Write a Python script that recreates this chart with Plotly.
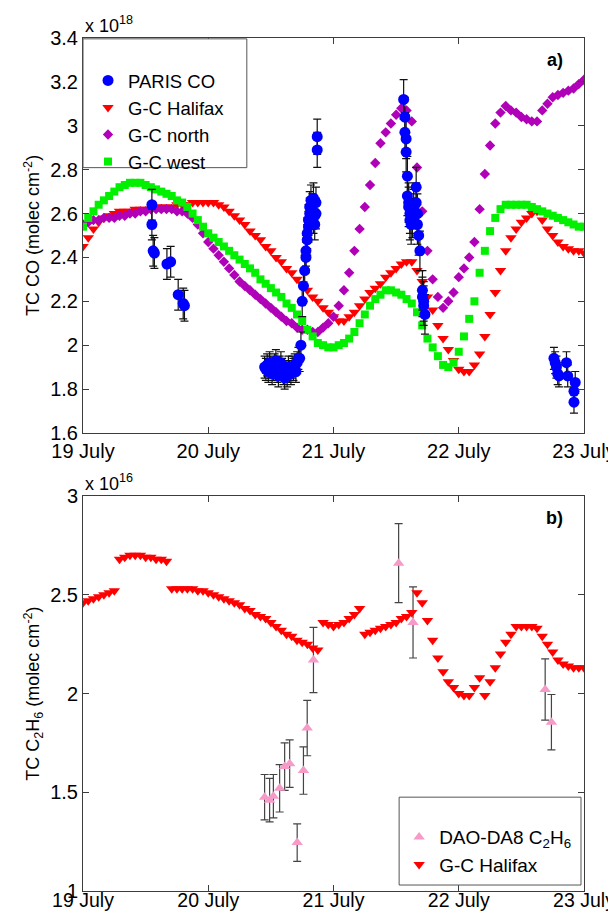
import plotly.graph_objects as go

# model output is hourly from 19 July 00:00 to 23 July 00:00
model_hours = list(range(97))
model_day = [19 + h / 24 for h in model_hours]

# TC CO, x 1e18 molec cm-2
gc_halifax_co = [
    2.45, 2.49, 2.53, 2.56, 2.58, 2.59, 2.60, 2.61, 2.61, 2.61, 2.62, 2.62,
    2.62, 2.62, 2.63, 2.63, 2.63, 2.63, 2.64, 2.64, 2.64, 2.65, 2.65, 2.65,
    2.65, 2.65, 2.64, 2.63, 2.61, 2.59, 2.57, 2.55, 2.52, 2.50, 2.48, 2.45,
    2.43, 2.40, 2.38, 2.35, 2.33, 2.30, 2.28, 2.25, 2.22, 2.20, 2.17, 2.15,
    2.13, 2.11, 2.11, 2.13, 2.15, 2.18, 2.21, 2.24, 2.26, 2.28, 2.31, 2.33,
    2.35, 2.37, 2.38, 2.38, 2.34, 2.29, 2.22, 2.16, 2.09, 2.03, 1.98, 1.93,
    1.89, 1.88, 1.88, 1.91, 1.96, 2.04, 2.14, 2.24, 2.34, 2.43, 2.49, 2.53,
    2.56, 2.58, 2.60, 2.61, 2.57, 2.53, 2.50, 2.47, 2.45, 2.44, 2.43, 2.43,
    2.42,
]
gc_north_co = [
    2.55, 2.56, 2.57, 2.57, 2.58, 2.58, 2.58, 2.59, 2.59, 2.60, 2.60, 2.61,
    2.61, 2.62, 2.62, 2.62, 2.62, 2.62, 2.61, 2.61, 2.60, 2.58, 2.55, 2.51,
    2.47, 2.44, 2.41, 2.38, 2.35, 2.32, 2.29, 2.27, 2.25, 2.23, 2.21, 2.19,
    2.17, 2.15, 2.13, 2.11, 2.10, 2.08, 2.07, 2.07, 2.06, 2.06, 2.08, 2.10,
    2.13, 2.18, 2.25, 2.33, 2.43, 2.53, 2.63, 2.73, 2.83, 2.92, 2.97, 3.01,
    3.05, 3.08, 3.07, 3.02, 2.81, 2.61, 2.43, 2.30, 2.22, 2.17, 2.20, 2.24,
    2.31, 2.35, 2.40, 2.47, 2.62, 2.78, 2.91, 3.01, 3.06, 3.09, 3.07, 3.06,
    3.04, 3.03, 3.02, 3.02, 3.07, 3.10, 3.13, 3.14, 3.15, 3.16, 3.17, 3.19,
    3.21,
]
gc_west_co = [
    2.54, 2.58, 2.61, 2.64, 2.66, 2.68, 2.70, 2.72, 2.73, 2.74, 2.74, 2.74,
    2.73, 2.72, 2.71, 2.70, 2.69, 2.68, 2.66, 2.65, 2.63, 2.60, 2.57, 2.54,
    2.51, 2.49, 2.47, 2.45, 2.43, 2.41, 2.39, 2.37, 2.35, 2.33, 2.30, 2.28,
    2.26, 2.24, 2.22, 2.19, 2.17, 2.14, 2.11, 2.07, 2.04, 2.01, 2.00, 1.99,
    1.99, 2.00, 2.01, 2.03, 2.06, 2.10, 2.14, 2.18, 2.21, 2.23, 2.25, 2.25,
    2.24, 2.23, 2.21, 2.19, 2.15, 2.09, 2.03, 1.99, 1.95, 1.91, 1.90, 1.92,
    1.97, 2.04, 2.12, 2.20, 2.33, 2.43, 2.52, 2.58, 2.62, 2.64, 2.64, 2.64,
    2.64, 2.64, 2.63, 2.62, 2.61, 2.60, 2.59, 2.58, 2.57, 2.56, 2.55, 2.54,
    2.54,
]

# PARIS CO measurements
paris_day = [
    19.55, 19.55, 19.56, 19.57, 19.67, 19.70, 19.76, 19.80, 19.81,
    20.45, 20.46, 20.47, 20.48, 20.49, 20.50, 20.51, 20.52, 20.53, 20.54,
    20.55, 20.56, 20.57, 20.58, 20.59, 20.60, 20.61, 20.62, 20.63, 20.64,
    20.65, 20.66, 20.67, 20.68, 20.69, 20.70, 20.71, 20.72,
    20.73, 20.74, 20.75, 20.76, 20.77, 20.78, 20.78, 20.79, 20.79, 20.80,
    20.80, 20.81, 20.81, 20.82, 20.83, 20.84, 20.84, 20.85, 20.86, 20.86,
    20.87, 20.87,
    21.56, 21.57, 21.57, 21.58, 21.58, 21.59, 21.59, 21.60, 21.60, 21.61,
    21.61, 21.62, 21.63, 21.64, 21.66, 21.66, 21.67, 21.67, 21.68, 21.69,
    21.71, 21.71, 21.72, 21.72, 21.73,
    22.76, 22.77, 22.78, 22.79, 22.80, 22.86, 22.87, 22.93, 22.92, 22.92,
]
paris_co = [
    2.64, 2.55, 2.43, 2.42, 2.37, 2.38, 2.23, 2.19, 2.18,
    1.90, 1.89, 1.91, 1.88, 1.92, 1.90, 1.87, 1.89, 1.91, 1.93,
    1.88, 1.86, 1.90, 1.92, 1.89, 1.87, 1.85, 1.88, 1.86, 1.90,
    1.88, 1.87, 1.90, 1.89, 1.91, 1.88, 1.92, 1.94,
    1.94, 2.00, 2.20, 2.27, 2.34, 2.40, 2.43, 2.48, 2.51, 2.54,
    2.57, 2.60, 2.63, 2.66, 2.62, 2.67, 2.58, 2.55, 2.60, 2.65,
    2.89, 2.95,
    3.12, 3.04, 2.97, 2.94, 2.88, 2.77, 2.68, 2.65, 2.63, 2.60,
    2.57, 2.55, 2.58, 2.62, 2.72, 2.65, 2.60, 2.55, 2.50, 2.43,
    2.25, 2.22, 2.20, 2.18, 2.14,
    1.94, 1.92, 1.90, 1.87, 1.86, 1.92, 1.86, 1.83, 1.79, 1.74,
]
paris_err = (
    [0.07] * 9
    + [0.05] * 28
    + [0.06, 0.06, 0.07, 0.07, 0.07, 0.07, 0.07, 0.07, 0.07, 0.07,
       0.07, 0.07, 0.07, 0.07, 0.07, 0.07, 0.07, 0.07, 0.07, 0.07,
       0.08, 0.08]
    + [0.09] * 25
    + [0.05] * 10
)

# TC C2H6, x 1e16 molec cm-2
gc_halifax_c2h6 = [
    2.46, 2.47, 2.48, 2.49, 2.50, 2.51, 2.52,
    2.68, 2.69, 2.70, 2.70, 2.70, 2.69, 2.69, 2.68, 2.68, 2.67,
    2.53, 2.53, 2.53, 2.53, 2.53, 2.52, 2.52, 2.51, 2.50, 2.49, 2.48, 2.47,
    2.46, 2.45, 2.43, 2.42, 2.40, 2.39, 2.38, 2.36, 2.34, 2.32, 2.30, 2.29,
    2.27, 2.26, 2.25, 2.23, 2.22,
    2.36, 2.35, 2.34, 2.35, 2.36, 2.38, 2.40, 2.43,
    2.30, 2.31, 2.32, 2.33, 2.34, 2.35, 2.36, 2.38, 2.39, 2.41,
    2.51, 2.46, 2.37, 2.27, 2.18, 2.11, 2.06, 2.03, 2.00, 1.99, 1.99, 2.03,
    2.08, 1.99, 2.06, 2.13, 2.20, 2.26, 2.30, 2.34, 2.34, 2.34, 2.34, 2.33,
    2.29, 2.25, 2.21, 2.17, 2.15, 2.14, 2.13, 2.13, 2.13,
]
dao_day = [20.45, 20.49, 20.52, 20.57, 20.61, 20.65, 20.71, 20.76, 20.79,
           20.84, 21.52, 21.635, 22.69, 22.74]
dao_c2h6 = [1.475, 1.46, 1.48, 1.52, 1.63, 1.645, 1.245, 1.61, 1.825,
            2.17, 2.66, 2.36, 2.02, 1.855]
dao_err = [0.115, 0.11, 0.11, 0.12, 0.12, 0.12, 0.095, 0.12, 0.14,
           0.165, 0.20, 0.18, 0.155, 0.14]

day_ticks = [19, 20, 21, 22, 23]
day_labels = ["19 July", "20 July", "21 July", "22 July", "23 July"]

FONT = "Liberation Sans, Arial, sans-serif"
AXIS = "#3c3c3c"

fig = go.Figure()

# top panel
fig.add_trace(go.Scatter(
    x=model_day, y=gc_halifax_co, mode="markers", name="G-C Halifax",
    marker=dict(symbol="triangle-down", size=10, color="#ff0000"),
    xaxis="x", yaxis="y", legend="legend", legendrank=2))
fig.add_trace(go.Scatter(
    x=model_day, y=gc_north_co, mode="markers", name="G-C north",
    marker=dict(symbol="diamond", size=8, color="#b000b8"),
    xaxis="x", yaxis="y", legend="legend", legendrank=3))
fig.add_trace(go.Scatter(
    x=model_day, y=gc_west_co, mode="markers", name="G-C west",
    marker=dict(symbol="square", size=8, color="#00f000"),
    xaxis="x", yaxis="y", legend="legend", legendrank=4))
fig.add_trace(go.Scatter(
    x=paris_day, y=paris_co, mode="markers", name="PARIS CO",
    marker=dict(symbol="circle", size=11, color="#0000ff"),
    error_y=dict(type="data", array=paris_err, color="#111111",
                 thickness=1.2, width=4),
    xaxis="x", yaxis="y", legend="legend", legendrank=1))

# bottom panel
fig.add_trace(go.Scatter(
    x=dao_day, y=dao_c2h6, mode="markers",
    name="DAO-DA8 C<sub>2</sub>H<sub>6</sub>",
    marker=dict(symbol="triangle-up", size=10, color="#f79ac8"),
    error_y=dict(type="data", array=dao_err, color="#444444",
                 thickness=1.2, width=4),
    xaxis="x2", yaxis="y2", legend="legend2", legendrank=1))
fig.add_trace(go.Scatter(
    x=model_day, y=gc_halifax_c2h6, mode="markers", name="G-C Halifax",
    marker=dict(symbol="triangle-down", size=10, color="#ff0000"),
    xaxis="x2", yaxis="y2", legend="legend2", legendrank=2))

xcommon = dict(range=[19, 23], tickvals=day_ticks, ticktext=day_labels,
               ticks="inside", ticklen=6, tickcolor=AXIS, showline=True,
               linecolor=AXIS, linewidth=1, mirror="ticks", showgrid=False,
               zeroline=False, automargin=False)
ycommon = dict(ticks="inside", ticklen=6, tickcolor=AXIS, showline=True,
               linecolor=AXIS, linewidth=1, mirror="ticks", showgrid=False,
               zeroline=False, automargin=False,
               tickfont=dict(size=20, color="black"))

top_ticks = [1.6, 1.8, 2.0, 2.2, 2.4, 2.6, 2.8, 3.0, 3.2, 3.4]
bot_ticks = [1.0, 1.5, 2.0, 2.5, 3.0]

# the page body adds an 8 px margin, so the figure is 8 px smaller than the window
fig.update_layout(
    width=608, height=906,
    margin=dict(l=75, r=32, t=30, b=23),
    paper_bgcolor="white", plot_bgcolor="white",
    font=dict(family=FONT, size=18, color="black"),
    xaxis=dict(domain=[0, 1], anchor="y",
               tickfont=dict(size=20, color="black"), **xcommon),
    yaxis=dict(domain=[0.537, 1], anchor="x", range=[1.6, 3.4],
               tickvals=top_ticks, ticktext=[f"{v:g}" for v in top_ticks],
               title=dict(text="TC CO (molec cm<sup>-2</sup>)",
                          font=dict(size=18), standoff=5),
               **ycommon),
    xaxis2=dict(domain=[0, 1], anchor="y2", ticklabelstandoff=-8,
                tickfont=dict(size=19.5, color="black"), **xcommon),
    yaxis2=dict(domain=[0, 0.463], anchor="x2", range=[1, 3],
                tickvals=bot_ticks, ticktext=[f"{v:g}" for v in bot_ticks],
                title=dict(text="TC C<sub>2</sub>H<sub>6</sub> (molec cm<sup>-2</sup>)",
                           font=dict(size=18), standoff=5),
                **ycommon),
    legend=dict(x=0.010, y=0.972, xanchor="left", yanchor="top",
                bgcolor="rgba(0,0,0,0)", borderwidth=0,
                font=dict(size=18.5), tracegroupgap=0, itemwidth=30),
    legend2=dict(x=0.631, y=0.0855, xanchor="left", yanchor="top",
                 bgcolor="rgba(0,0,0,0)", borderwidth=0,
                 font=dict(size=19), tracegroupgap=0, itemwidth=30),
    shapes=[
        dict(type="rect", xref="paper", yref="paper", x0=0, x1=0.327,
             y0=0.848, y1=0.999, line=dict(color="#555555", width=1),
             fillcolor="white", layer="above"),
        dict(type="rect", xref="paper", yref="paper", x0=0.631, x1=0.994,
             y0=0.007, y1=0.110, line=dict(color="#555555", width=1),
             fillcolor="white", layer="above"),
    ],
    annotations=[
        dict(text="<b>a)</b>", x=0.942, y=0.974, xref="paper", yref="paper",
             xanchor="center", yanchor="middle",
             showarrow=False, font=dict(size=18)),
        dict(text="<b>b)</b>", x=0.942, y=0.437, xref="paper", yref="paper",
             xanchor="center", yanchor="middle",
             showarrow=False, font=dict(size=18)),
        dict(text="x 10<sup>18</sup>", x=0.0, y=1.0, xref="paper",
             yref="paper", xanchor="left", yanchor="bottom",
             showarrow=False, font=dict(size=18)),
        dict(text="x 10<sup>16</sup>", x=0.0, y=0.463, xref="paper",
             yref="paper", xanchor="left", yanchor="bottom",
             showarrow=False, font=dict(size=18)),
    ],
)

fig.write_html("out.html")
